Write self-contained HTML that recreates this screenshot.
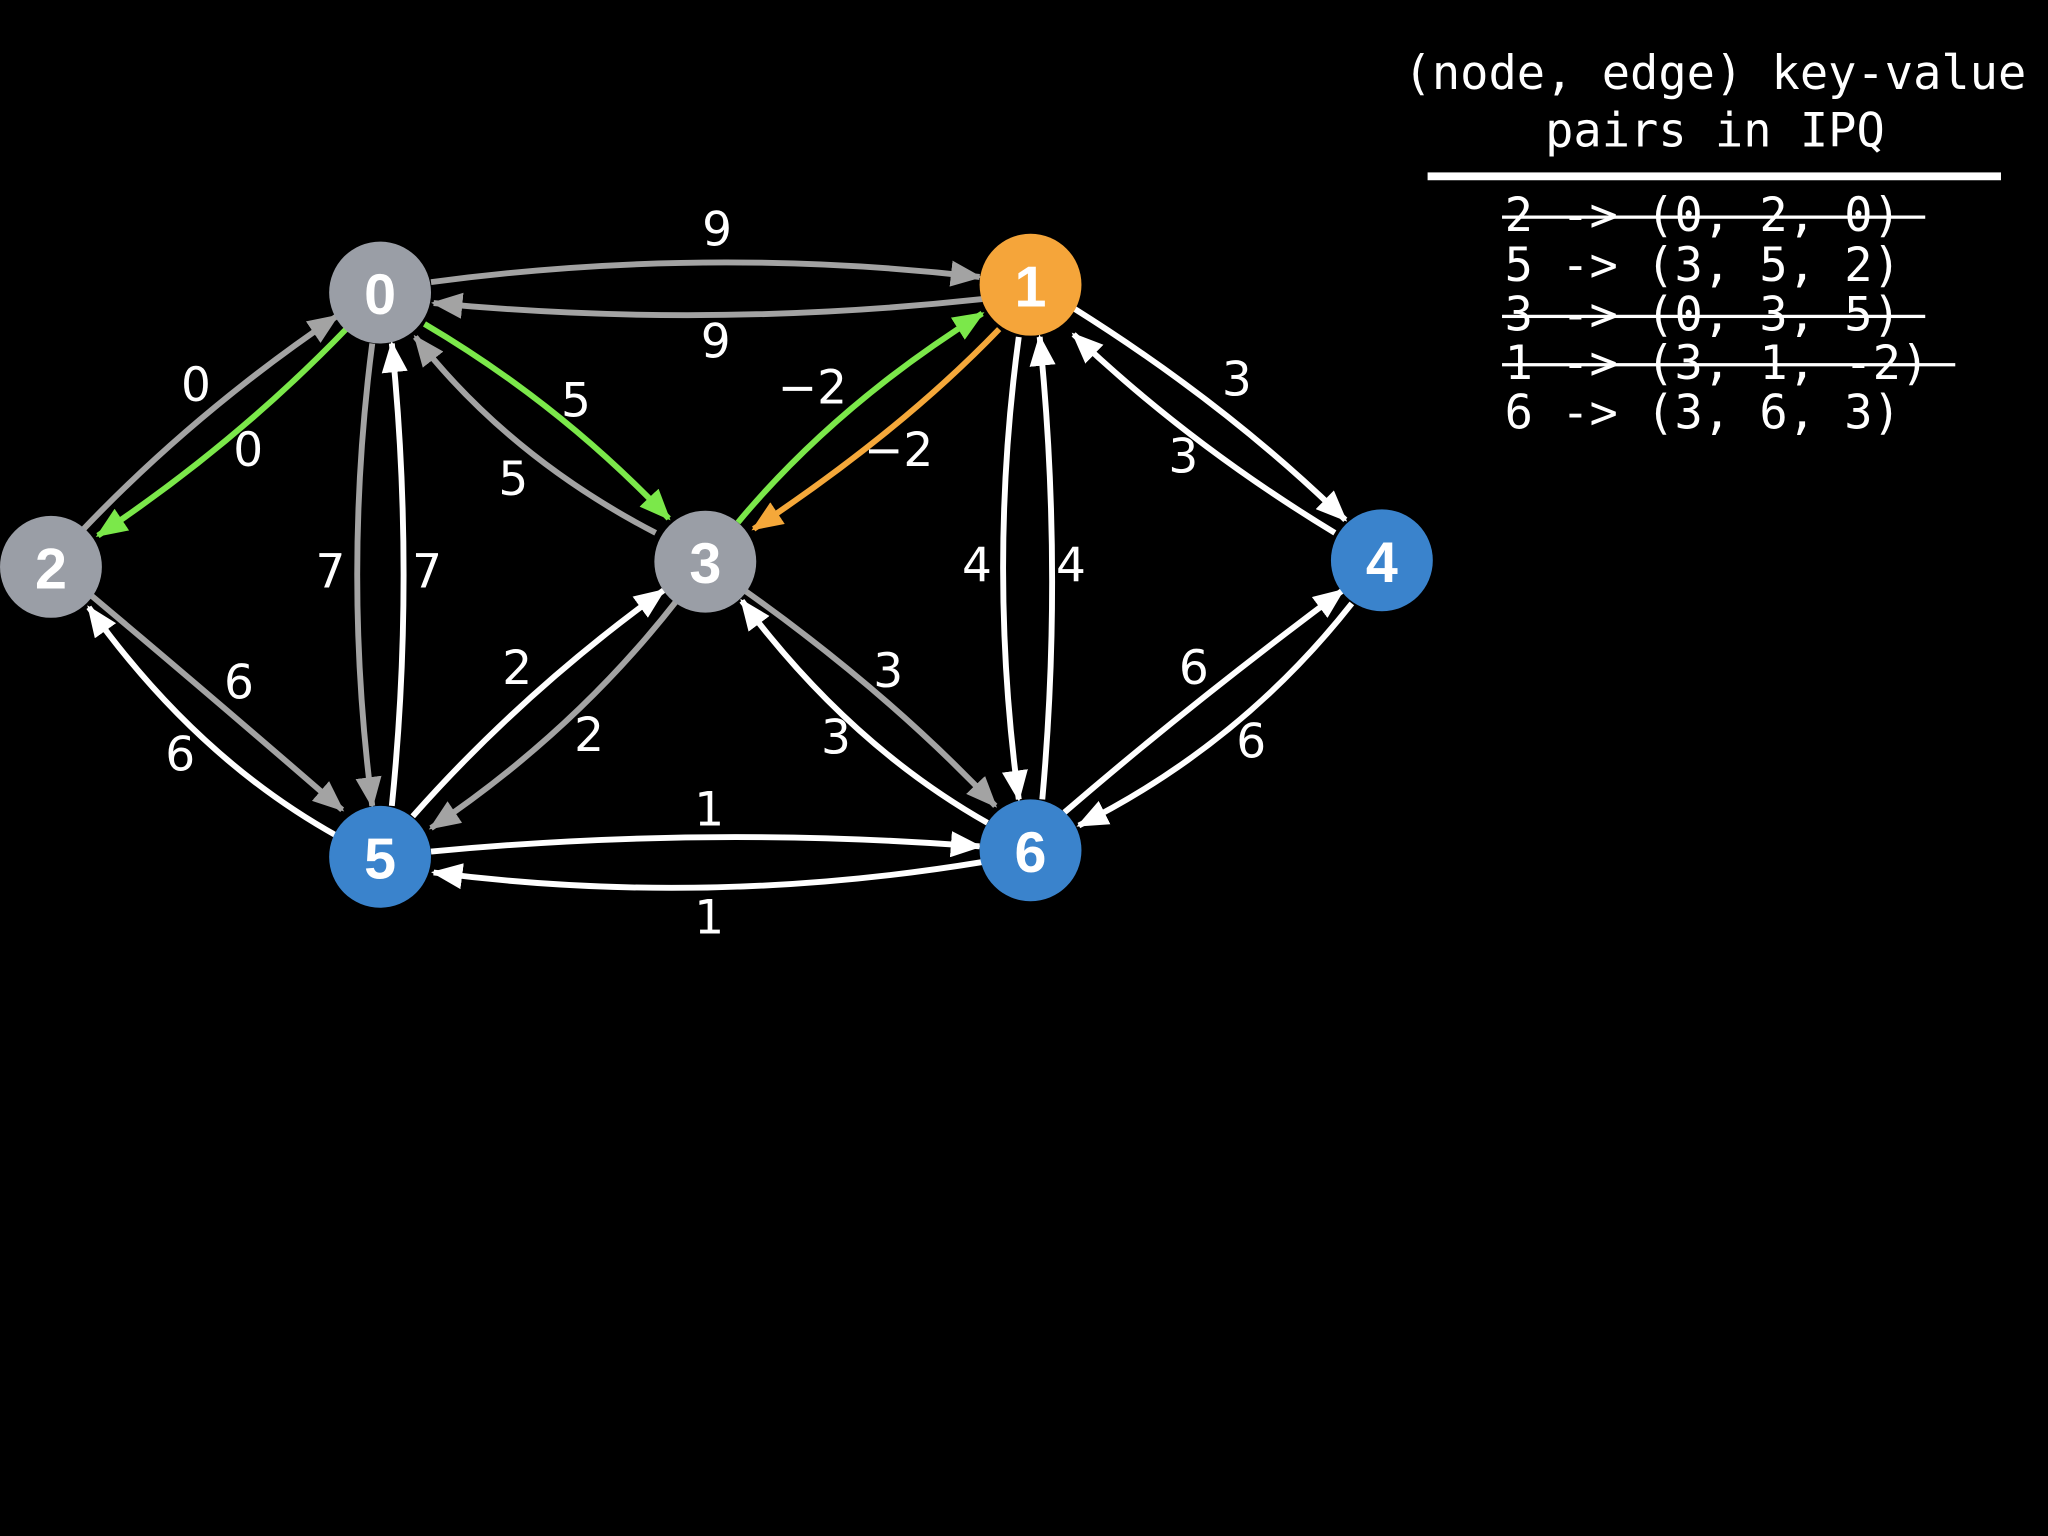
<!DOCTYPE html>
<html><head><meta charset="utf-8"><style>
html,body{margin:0;padding:0;background:#000;}
svg{display:block;}
</style></head><body>
<svg width="2048" height="1536" viewBox="0 0 1568 1176" xmlns="http://www.w3.org/2000/svg">
<defs>
<marker id="aw" markerUnits="userSpaceOnUse" markerWidth="24" markerHeight="20" refX="22" refY="10" orient="auto"><path d="M0,0 L24,10 L0,20 z" fill="#fff"/></marker>
<marker id="ag" markerUnits="userSpaceOnUse" markerWidth="24" markerHeight="20" refX="22" refY="10" orient="auto"><path d="M0,0 L24,10 L0,20 z" fill="#a3a3a3"/></marker>
<marker id="agr" markerUnits="userSpaceOnUse" markerWidth="24" markerHeight="20" refX="22" refY="10" orient="auto"><path d="M0,0 L24,10 L0,20 z" fill="#7be84a"/></marker>
<marker id="ao" markerUnits="userSpaceOnUse" markerWidth="24" markerHeight="20" refX="22" refY="10" orient="auto"><path d="M0,0 L24,10 L0,20 z" fill="#f5a83a"/></marker>
</defs>
<rect width="1568" height="1176" fill="#000"/>
<g fill="none" stroke-width="4.5">
<!-- gray -->
<path d="M330,216 Q540,188 750,212" stroke="#a3a3a3" marker-end="url(#ag)"/>
<path d="M752,229 Q540,252 332,232" stroke="#a3a3a3" marker-end="url(#ag)"/>
<path d="M64,405 Q150,315 258,242" stroke="#a3a3a3" marker-end="url(#ag)"/>
<path d="M502,408 Q390,350 318,258" stroke="#a3a3a3" marker-end="url(#ag)"/>
<path d="M285,263 Q262,440 285,617" stroke="#a3a3a3" marker-end="url(#ag)"/>
<path d="M70,456 Q170,540 262,620" stroke="#a3a3a3" marker-end="url(#ag)"/>
<path d="M518,460 Q440,560 330,634" stroke="#a3a3a3" marker-end="url(#ag)"/>
<path d="M570,452 Q680,530 762,617" stroke="#a3a3a3" marker-end="url(#ag)"/>
<!-- green -->
<path d="M265,252 Q180,340 75,410" stroke="#7be84a" marker-end="url(#agr)"/>
<path d="M325,248 Q430,310 512,397" stroke="#7be84a" marker-end="url(#agr)"/>
<path d="M565,400 Q640,310 752,240" stroke="#7be84a" marker-end="url(#agr)"/>
<!-- orange -->
<path d="M765,252 Q690,330 577,405" stroke="#f5a83a" marker-end="url(#ao)"/>
<!-- white -->
<path d="M300,617 Q318,440 300,263" stroke="#fff" marker-end="url(#aw)"/>
<path d="M822,236 Q940,310 1030,398" stroke="#fff" marker-end="url(#aw)"/>
<path d="M1022,408 Q910,340 822,256" stroke="#fff" marker-end="url(#aw)"/>
<path d="M780,258 Q756,435 780,612" stroke="#fff" marker-end="url(#aw)"/>
<path d="M798,612 Q814,435 796,258" stroke="#fff" marker-end="url(#aw)"/>
<path d="M258,640 Q150,580 68,465" stroke="#fff" marker-end="url(#aw)"/>
<path d="M316,625 Q400,530 508,452" stroke="#fff" marker-end="url(#aw)"/>
<path d="M756,630 Q650,570 568,460" stroke="#fff" marker-end="url(#aw)"/>
<path d="M815,622 Q910,540 1028,452" stroke="#fff" marker-end="url(#aw)"/>
<path d="M1035,462 Q950,570 826,632" stroke="#fff" marker-end="url(#aw)"/>
<path d="M330,652 Q540,632 750,648" stroke="#fff" marker-end="url(#aw)"/>
<path d="M752,660 Q540,695 332,668" stroke="#fff" marker-end="url(#aw)"/>
</g>
<g font-family="'Liberation Sans', sans-serif" font-weight="bold" font-size="44" fill="#fff" text-anchor="middle" dominant-baseline="central">
<circle cx="291" cy="224" r="39" fill="#9a9ea6"/><text x="291" y="226">0</text>
<circle cx="789" cy="218" r="39" fill="#f5a53a"/><text x="789" y="220">1</text>
<circle cx="39" cy="434" r="39" fill="#9a9ea6"/><text x="39" y="436">2</text>
<circle cx="540" cy="430" r="39" fill="#9a9ea6"/><text x="540" y="432">3</text>
<circle cx="1058" cy="429" r="39" fill="#3a83cc"/><text x="1058" y="431">4</text>
<circle cx="291" cy="656" r="39" fill="#3a83cc"/><text x="291" y="658">5</text>
<circle cx="789" cy="651" r="39" fill="#3a83cc"/><text x="789" y="653">6</text>
</g>
<g font-family="'DejaVu Sans', sans-serif" font-size="36" fill="#fff" text-anchor="middle" dominant-baseline="central">
<text x="549" y="176">9</text><text x="548" y="262">9</text>
<text x="150" y="295">0</text><text x="190" y="345">0</text>
<text x="441" y="307">5</text><text x="393" y="367">5</text>
<text x="253" y="438">7</text><text x="327" y="438">7</text>
<text x="622" y="297">−2</text><text x="688" y="345">−2</text>
<text x="947" y="291">3</text><text x="906" y="350">3</text>
<text x="748" y="433">4</text><text x="820" y="433">4</text>
<text x="183" y="523">6</text><text x="138" y="578">6</text>
<text x="396" y="512">2</text><text x="451" y="563">2</text>
<text x="680" y="514">3</text><text x="640" y="565">3</text>
<text x="914" y="512">6</text><text x="958" y="568">6</text>
<text x="543" y="620">1</text><text x="543" y="703">1</text>
</g>
<g font-family="'DejaVu Sans Mono','Liberation Mono', monospace" font-size="36" fill="#fff">
<text x="1313" y="68" text-anchor="middle">(node, edge) key-value</text>
<text x="1313" y="112" text-anchor="middle">pairs in IPQ</text>
<rect x="1093" y="132" width="439" height="6" fill="#fff"/>
<text x="1152" y="177">2 -&gt; (0, 2, 0)</text>
<text x="1152" y="215">5 -&gt; (3, 5, 2)</text>
<text x="1152" y="253">3 -&gt; (0, 3, 5)</text>
<text x="1152" y="290">1 -&gt; (3, 1, -2)</text>
<text x="1152" y="328">6 -&gt; (3, 6, 3)</text>
<rect x="1150" y="165" width="324" height="2.5"/>
<rect x="1150" y="241" width="324" height="2.5"/>
<rect x="1150" y="278" width="347" height="2.5"/>
</g>
</svg>
</body></html>
